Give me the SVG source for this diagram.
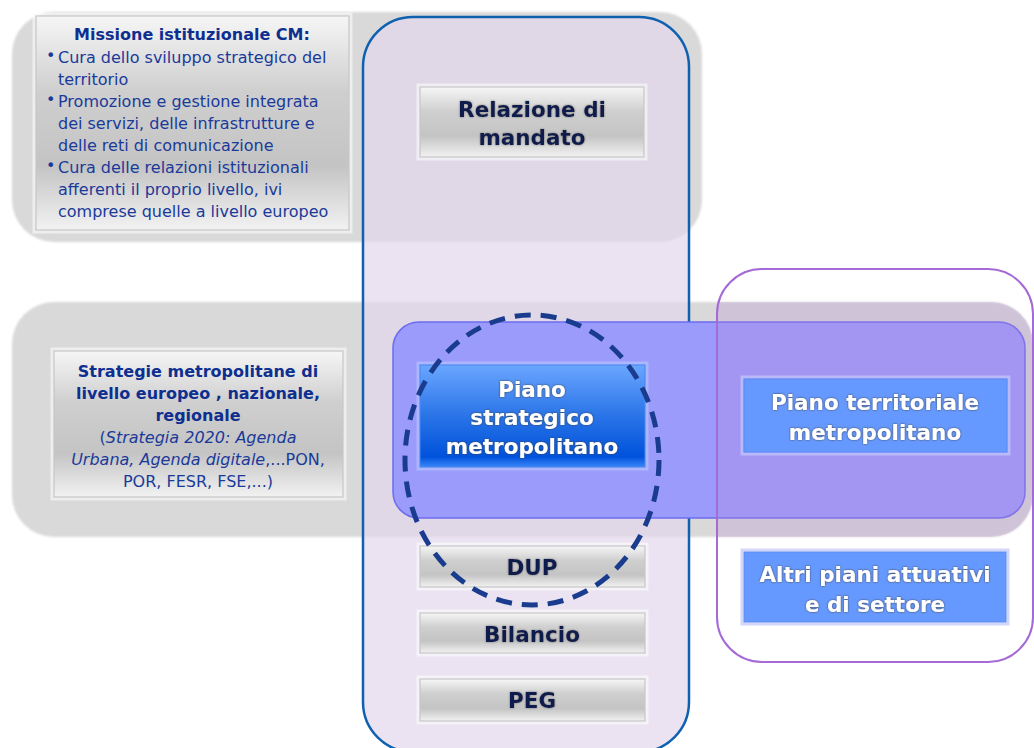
<svg xmlns="http://www.w3.org/2000/svg" width="1034" height="748" viewBox="0 0 1034 748">
<defs>
<linearGradient id="gGrey" x1="0" y1="0" x2="0" y2="1">
<stop offset="0" stop-color="#f6f6f6"/>
<stop offset="0.35" stop-color="#cfcfcf"/>
<stop offset="0.7" stop-color="#c4c4c4"/>
<stop offset="1" stop-color="#f2f2f2"/>
</linearGradient>
<linearGradient id="gBlue" x1="0" y1="0" x2="0" y2="1">
<stop offset="0" stop-color="#6aa6ff"/>
<stop offset="0.5" stop-color="#2a74e8"/>
<stop offset="0.9" stop-color="#0052dc"/>
<stop offset="1" stop-color="#3a86f8"/>
</linearGradient>
<filter id="soft" x="-5%" y="-5%" width="110%" height="110%">
<feGaussianBlur stdDeviation="1.2"/>
</filter>
<filter id="darkGlow" x="-10%" y="-30%" width="120%" height="160%">
<feGaussianBlur in="SourceAlpha" stdDeviation="1.3" result="b"/>
<feFlood flood-color="#7a7a7a"/>
<feComposite in2="b" operator="in" result="s"/>
<feMerge><feMergeNode in="s"/><feMergeNode in="SourceGraphic"/></feMerge>
</filter>
<filter id="whiteGlow" x="-10%" y="-30%" width="120%" height="160%">
<feGaussianBlur in="SourceAlpha" stdDeviation="1.1" result="b"/>
<feFlood flood-color="#404040"/>
<feComposite in2="b" operator="in" result="s"/>
<feMerge><feMergeNode in="s"/><feMergeNode in="SourceGraphic"/></feMerge>
</filter>
<clipPath id="rightClip"><rect x="717" y="269" width="316" height="393" rx="45"/></clipPath>
<clipPath id="bandClip"><rect x="12" y="302" width="1021" height="235" rx="42"/></clipPath>
</defs>
<style>
.band{fill:#d9d9d9}
.gbox{fill:url(#gGrey);stroke:#c6c6c6;stroke-width:1.2}
.glow{fill:none;stroke:#ffffff;stroke-opacity:0.55;stroke-width:5}
.lt{font-family:"DejaVu Sans",Verdana,sans-serif;font-size:16px;fill:#1a3a9a}
.lb{font-weight:bold;fill:#0e2f8f}
.it{font-style:italic}
.nt{font-family:"DejaVu Sans",Verdana,sans-serif;font-size:21.5px;font-weight:bold;text-anchor:middle}
.dark{fill:#0c1a4e;filter:url(#darkGlow)}
.white{fill:#ffffff;filter:url(#whiteGlow)}
.pbox{fill:#6699ff;stroke:#5a8cf5;stroke-width:1}
</style>

<g id="bands" filter="url(#soft)">
<rect class="band" x="12" y="12" width="690" height="230" rx="42"/>
<rect class="band" x="12" y="302" width="1021" height="235" rx="42"/>
</g>

<g id="column">
<rect x="363" y="17" width="326" height="735" rx="50" fill="#e3d6ed" fill-opacity="0.7" stroke="#1060b0" stroke-width="2.5"/>
</g>

<g id="missione">
<rect class="glow" x="35" y="15" width="315" height="216"/>
<rect class="gbox" x="36" y="16" width="313" height="214"/>
<text class="lt lb" x="192" y="40" text-anchor="middle">Missione istituzionale CM:</text>
<text class="lt" font-size="11" x="46" y="61">•</text>
<text class="lt" x="58" y="63">Cura dello sviluppo strategico del</text>
<text class="lt" x="58" y="85">territorio</text>
<text class="lt" font-size="11" x="46" y="105">•</text>
<text class="lt" x="58" y="107">Promozione e gestione integrata</text>
<text class="lt" x="58" y="129">dei servizi, delle infrastrutture e</text>
<text class="lt" x="58" y="151">delle reti di comunicazione</text>
<text class="lt" font-size="11" x="46" y="171">•</text>
<text class="lt" x="58" y="173">Cura delle relazioni istituzionali</text>
<text class="lt" x="58" y="195">afferenti il proprio livello, ivi</text>
<text class="lt" x="58" y="217">comprese quelle a livello europeo</text>
</g>

<g id="strategie">
<rect class="glow" x="53" y="350" width="291" height="148"/>
<rect class="gbox" x="54" y="351" width="289" height="146"/>
<text class="lt lb" x="198" y="377" text-anchor="middle">Strategie metropolitane di</text>
<text class="lt lb" x="198" y="399" text-anchor="middle">livello europeo , nazionale,</text>
<text class="lt lb" x="198" y="421" text-anchor="middle">regionale</text>
<text class="lt" x="198" y="443" text-anchor="middle">(<tspan class="it">Strategia 2020: Agenda</tspan></text>
<text class="lt" x="198" y="465" text-anchor="middle"><tspan class="it">Urbana, Agenda digitale</tspan>,...PON,</text>
<text class="lt" x="198" y="487" text-anchor="middle">POR, FESR, FSE,...)</text>
</g>

<g id="relazione">
<rect class="glow" x="419" y="86" width="226" height="72"/>
<rect class="gbox" x="420" y="87" width="224" height="70"/>
<text class="nt dark" x="532" y="117">Relazione di</text>
<text class="nt dark" x="532" y="145">mandato</text>
</g>

<g id="dup">
<rect class="glow" x="419" y="545" width="227" height="43"/>
<rect class="gbox" x="420" y="546" width="225" height="41"/>
<text class="nt dark" x="532" y="575">DUP</text>
</g>

<g id="bilancio">
<rect class="glow" x="419" y="612" width="227" height="42"/>
<rect class="gbox" x="420" y="613" width="225" height="40"/>
<text class="nt dark" x="532" y="642">Bilancio</text>
</g>

<g id="peg">
<rect class="glow" x="419" y="678" width="227" height="44"/>
<rect class="gbox" x="420" y="679" width="225" height="42"/>
<text class="nt dark" x="532" y="708">PEG</text>
</g>

<g id="pianificazione">
<rect x="393" y="322" width="632" height="196" rx="26" fill="#9b9bfc" stroke="#6c6cf0" stroke-width="1.5"/>
</g>

<g id="ambito-destro">
<g clip-path="url(#bandClip)">
<rect x="717" y="302" width="316" height="235" fill="#b488d8" fill-opacity="0.27" clip-path="url(#rightClip)"/>
</g>
<rect x="717" y="269" width="316" height="393" rx="45" fill="none" stroke="#a56ad6" stroke-width="2"/>
</g>

<g id="piano-strategico">
<rect x="418" y="363" width="229" height="106" fill="none" stroke="#b8c8ff" stroke-opacity="0.6" stroke-width="3"/>
<rect x="420" y="365" width="225" height="102" fill="url(#gBlue)" stroke="#4a8af0" stroke-width="1"/>
<text class="nt white" x="532" y="397">Piano</text>
<text class="nt white" x="532" y="425">strategico</text>
<text class="nt white" x="532" y="454">metropolitano</text>
</g>

<g id="piano-territoriale">
<rect x="742" y="377" width="267" height="77" fill="none" stroke="#c4c8ff" stroke-opacity="0.7" stroke-width="3"/>
<rect class="pbox" x="744" y="379" width="263" height="73"/>
<text class="nt white" x="875" y="410">Piano territoriale</text>
<text class="nt white" x="875" y="440">metropolitano</text>
</g>

<g id="altri-piani">
<rect x="742" y="550" width="266" height="74" fill="none" stroke="#c8ccf8" stroke-opacity="0.8" stroke-width="3"/>
<rect class="pbox" x="744" y="552" width="262" height="70"/>
<text class="nt white" x="875" y="582">Altri piani attuativi</text>
<text class="nt white" x="875" y="612">e di settore</text>
</g>

<g id="connectors">
<ellipse cx="532" cy="460" rx="127" ry="145" fill="none" stroke="#1a3c8f" stroke-width="5" stroke-dasharray="16 10"/>
</g>
</svg>
